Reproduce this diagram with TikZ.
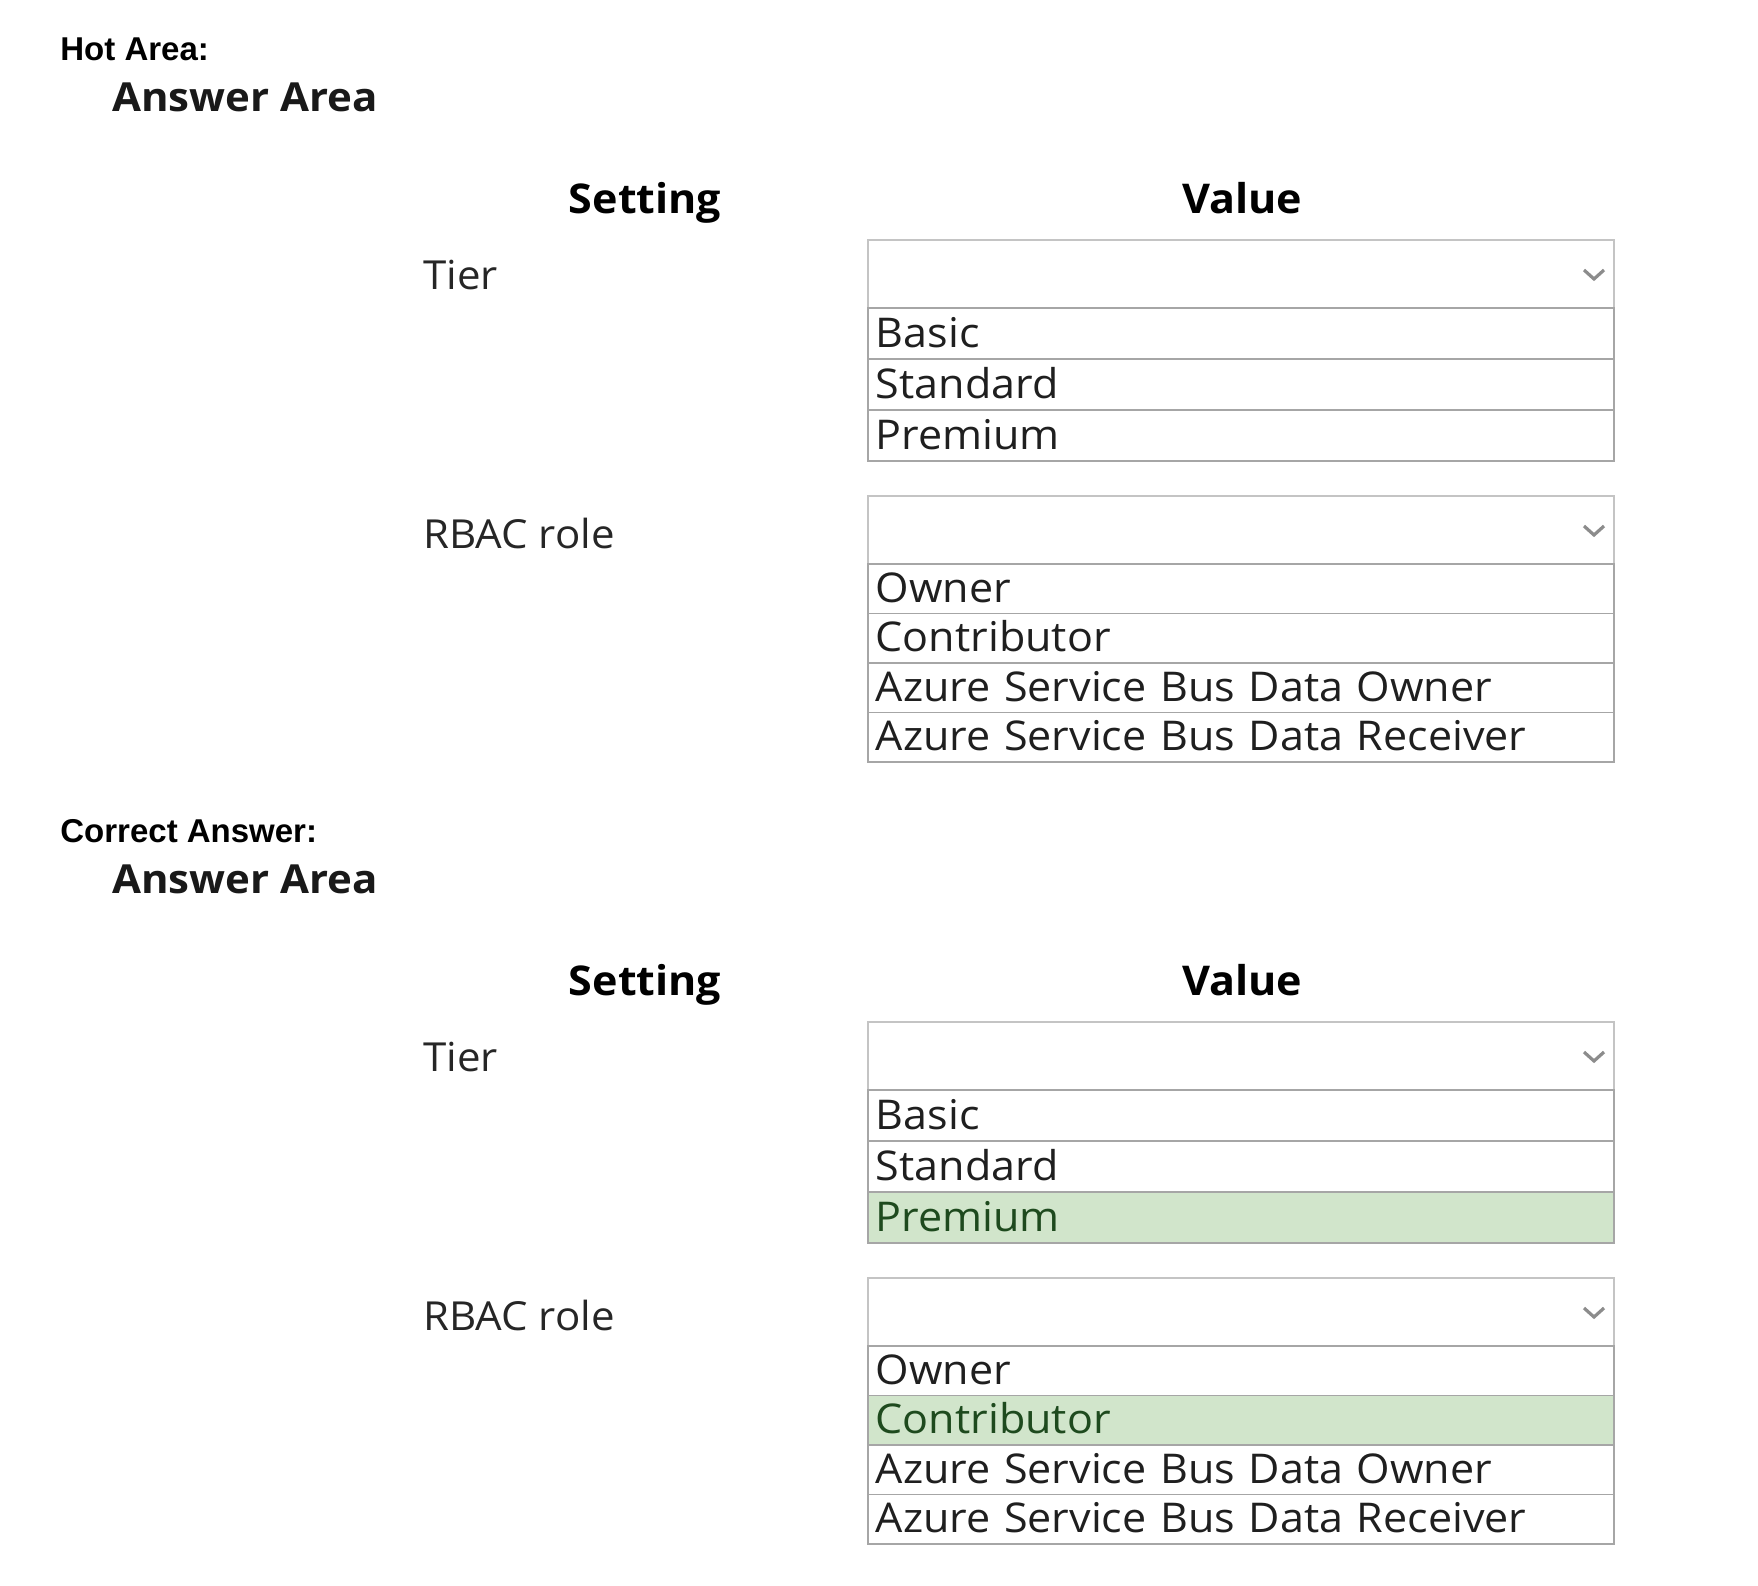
\documentclass[tikz,border=0pt]{standalone}
\usepackage{fontspec}
\setmainfont{Open Sans}[FakeStretch=1.05]
\newfontfamily\arialfont{Liberation Sans}
\definecolor{boxline}{HTML}{C4C4C4}
\definecolor{rowline}{HTML}{A6A6A6}
\definecolor{okfill}{HTML}{D1E5CB}
\definecolor{oktext}{HTML}{1E4A1E}
\definecolor{chevgray}{HTML}{8C8C8C}

\begin{document}
\begin{tikzpicture}[x=0.5pt,y=-0.5pt]
  \tikzset{
    every node/.style={inner sep=0pt,anchor=base west},
    title/.style={font=\arialfont\bfseries\fontsize{16.5}{20}\selectfont},
    area/.style={font=\bfseries\fontsize{20}{24}\selectfont,text=black!90},
    colhead/.style={font=\bfseries\fontsize{20.5}{24}\selectfont,anchor=base},
    setlabel/.style={font=\fontsize{20}{24}\selectfont,text=black!85},
    dropbox/.style={draw=boxline,line width=1pt,anchor=north west,minimum width=373pt,minimum height=34pt},
    choice/.style={draw=rowline,line width=0.8pt,anchor=north west,text width=365pt,inner xsep=4pt,inner ysep=0pt,
      text height=#1,text depth=5.5pt,align=left,font=\fontsize{20.5}{24}\selectfont,text=black!88},
    chev/.style={draw=chevgray,line width=1.6pt},
    rest/.style={},
    picka/.style={},
    pickb/.style={fill=okfill,text=oktext}
  }
  \useasboundingbox (0,0) rectangle (1758,1586);

  \foreach \p/\dy/\title in {a/0/Hot Area:, b/782/Correct Answer:} {
    \begin{scope}[yshift={-\dy*0.5pt}]
      \node[title] (\p-title) at (60,60) {\title};
      \node[area] (\p-area) at (112,111) {Answer Area};
      \node[colhead] (\p-setting) at (645,213) {Setting};
      \node[colhead] (\p-value) at (1242,213) {Value};

      % tier
      \node[setlabel] (\p-tierlbl) at (423,289) {Tier};
      \node[dropbox] (\p-tierbox) at (867,239) {};
      \draw[chev] (\p-tierbox.east) ++(-31,-4) -- ++(10,9) -- ++(10,-9);
      \foreach \o/\s [count=\i] in {Basic/rest, Standard/rest, Premium/pick\p}
        \node[choice=20pt,\s] (\p-tier-\i) at (867,{307+51*(\i-1)}) {\o};

      % role
      \node[setlabel] (\p-rolelbl) at (423,548) {RBAC role};
      \node[dropbox] (\p-rolebox) at (867,495) {};
      \draw[chev] (\p-rolebox.east) ++(-31,-4) -- ++(10,9) -- ++(10,-9);
      \foreach \o/\s [count=\i] in {Owner/rest, Contributor/pick\p,
          Azure Service Bus Data Owner/rest, Azure Service Bus Data Receiver/rest}
        \node[choice=19.25pt,\s] (\p-role-\i) at (867,{563+49.5*(\i-1)}) {\o};
    \end{scope}
  }
\end{tikzpicture}
\end{document}
